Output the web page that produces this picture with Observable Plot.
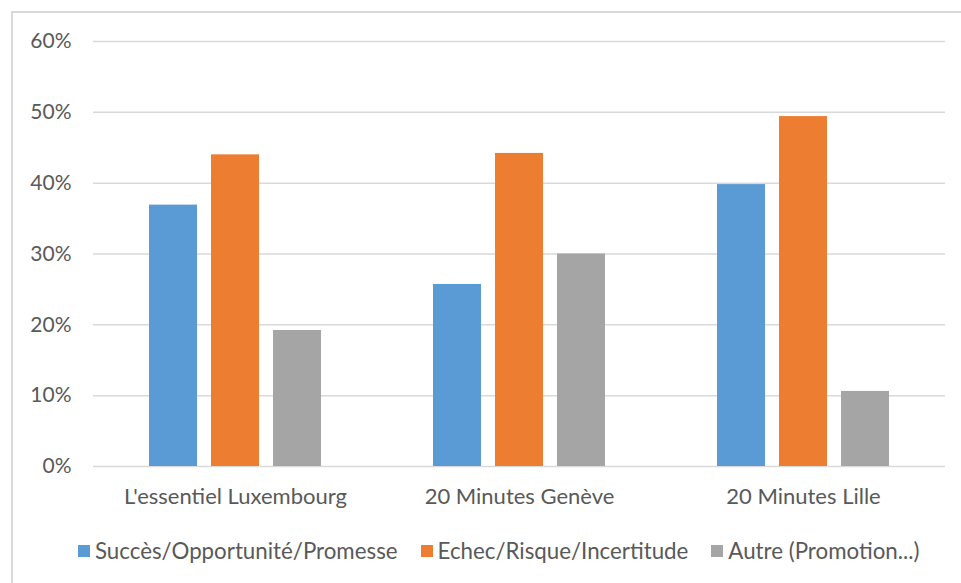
<!DOCTYPE html>
<html>
<head>
<meta charset="utf-8">
<script src="https://cdn.jsdelivr.net/npm/d3@7"></script>
<script src="https://cdn.jsdelivr.net/npm/@observablehq/plot@0.6"></script>
<style>
  html, body { margin: 0; padding: 0; background: #fff; }
  body { position: relative; width: 961px; height: 583px; overflow: hidden; font-family: Lato, "Open Sans", sans-serif; }
  #frame { position: absolute; left: 11px; top: 11px; width: 1000px; height: 620px; border: 2px solid #d9d9d9; box-sizing: border-box; }
  #chart { position: absolute; left: 0; top: 0; }
  #legend { position: absolute; left: 78px; top: 539px; display: flex; align-items: center; font-size: 22.3px; line-height: 24px; color: #595959; white-space: nowrap; }
  .item { display: flex; align-items: center; margin-right: 23px; }
  .sw { width: 12px; height: 12px; margin-right: 5px; }
</style>
</head>
<body>
<div id="frame"></div>
<div id="chart"></div>
<div id="legend"></div>
<script>
const categories = ["L'essentiel Luxembourg", "20 Minutes Genève", "20 Minutes Lille"];
const series = ["Succès/Opportunité/Promesse", "Echec/Risque/Incertitude", "Autre (Promotion...)"];
const colors = ["#5B9BD5", "#ED7D31", "#A5A5A5"];
const succes = [0.369, 0.257, 0.398];
const echec = [0.440, 0.442, 0.494];
const autre = [0.192, 0.300, 0.106];
const yTicks = [0, 0.1, 0.2, 0.3, 0.4, 0.5, 0.6];

const valuesBySeries = [succes, echec, autre];
const data = [];
categories.forEach((c, i) => {
  series.forEach((s, j) => data.push({category: c, series: s, value: valuesBySeries[j][i]}));
});

const chart = Plot.plot({
  width: 961,
  height: 520,
  marginLeft: 93,
  marginRight: 16,
  marginTop: 41,
  marginBottom: 54,
  style: {fontFamily: "Lato, 'Open Sans', sans-serif", color: "#595959", background: "transparent"},
  fx: {domain: categories, padding: 0, label: null},
  x: {domain: series, paddingInner: 0.228, paddingOuter: 0.875, axis: null},
  y: {domain: [0, 0.6], label: null},
  color: {domain: series, range: colors},
  marks: [
    Plot.gridY(yTicks, {stroke: "#d9d9d9", strokeOpacity: 1, strokeWidth: 1.5}),
    Plot.axisY(yTicks, {tickSize: 0, tickPadding: 22, tickFormat: d3.format(".0%"), fontSize: 21, fill: "#595959", label: null}),
    Plot.axisFx({anchor: "bottom", tickSize: 0, tickPadding: 22, fontSize: 22, fill: "#595959", label: null}),
    Plot.barY(data, {fx: "category", x: "series", y: "value", fill: "series"})
  ]
});
document.getElementById("chart").appendChild(chart);

const legend = document.getElementById("legend");
series.forEach((s, j) => {
  const item = document.createElement("div");
  item.className = "item";
  const sw = document.createElement("span");
  sw.className = "sw";
  sw.style.background = colors[j];
  const t = document.createElement("span");
  t.textContent = s;
  item.appendChild(sw);
  item.appendChild(t);
  legend.appendChild(item);
});
</script>
</body>
</html>
